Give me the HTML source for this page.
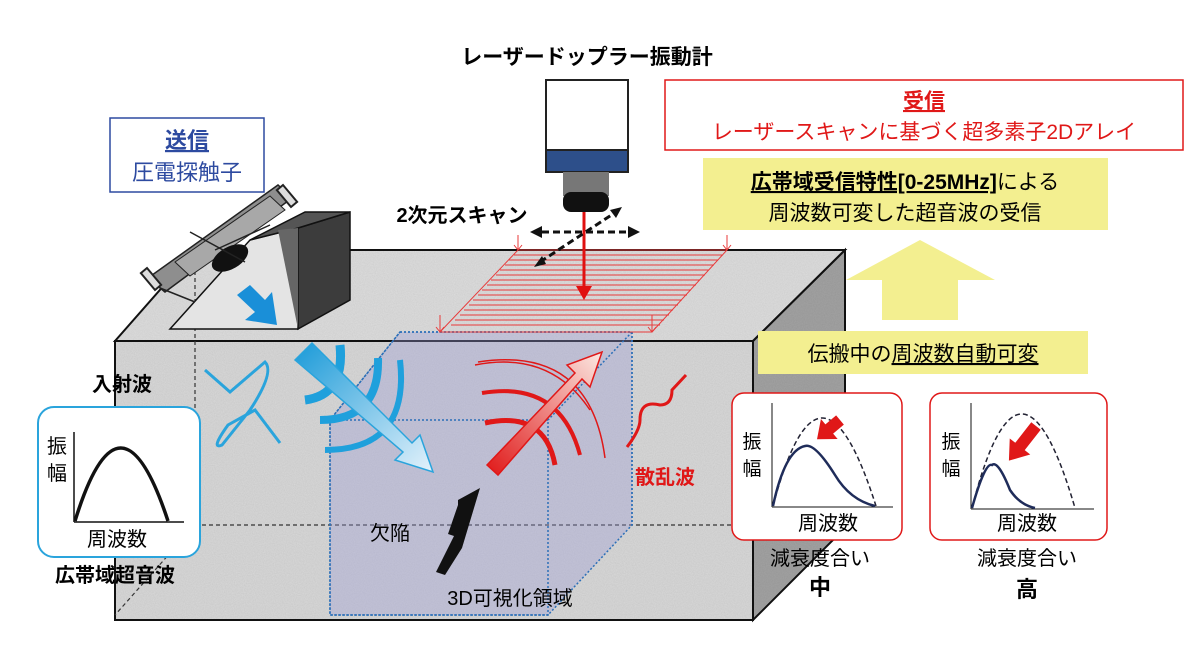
<!DOCTYPE html>
<html><head><meta charset="utf-8"><style>
body{margin:0;background:#fff}
svg{display:block}
text{font-family:"Liberation Sans","Noto Sans CJK JP",sans-serif}
</style></head><body>
<svg width="1200" height="665" viewBox="0 0 1200 665" xmlns="http://www.w3.org/2000/svg">
<defs>
<filter id="n" x="0" y="0" width="100%" height="100%">
<feTurbulence type="fractalNoise" baseFrequency="0.9" numOctaves="2" seed="3"/>
<feColorMatrix type="matrix" values="0 0 0 0 0.5  0 0 0 0 0.5  0 0 0 0 0.5  0 0 0 0.35 0"/>
<feComposite in2="SourceGraphic" operator="in"/>
<feBlend in2="SourceGraphic" mode="multiply"/>
</filter>
<linearGradient id="bg" x1="0" y1="0" x2="1" y2="1"><stop offset="0" stop-color="#1a9ad8"/><stop offset="1" stop-color="#e4f2fb"/></linearGradient>
<linearGradient id="rg" x1="0" y1="1" x2="1" y2="0"><stop offset="0" stop-color="#e01818"/><stop offset="1" stop-color="#fbe9e3"/></linearGradient>
</defs>

<!-- block -->
<g filter="url(#n)">
<polygon points="115,341 195,250 845,250 753,341" fill="#dedede"/>
<polygon points="753,341 845,250 845,528 753,620" fill="#a3a3a3"/>
<rect x="115" y="341" width="638" height="279" fill="#d9d9d9"/>
</g>
<g fill="none" stroke="#111" stroke-width="2">
<polygon points="115,341 195,250 845,250 753,341"/>
<polygon points="753,341 845,250 845,528 753,620"/>
<rect x="115" y="341" width="638" height="279"/>
</g>
<g fill="none" stroke="#333" stroke-width="1.2" stroke-dasharray="4,3">
<line x1="195" y1="250" x2="195" y2="525"/>
<line x1="195" y1="525" x2="845" y2="525"/>
<line x1="195" y1="525" x2="115" y2="615"/>
</g>

<!-- purple region -->
<g fill="#9a9ad8" fill-opacity="0.35" stroke="#2b6fb8" stroke-width="1.5" stroke-dasharray="2,2">
<polygon points="400,332 632,332 632,525 548,615 330,615 330,420"/>
</g>
<g fill="none" stroke="#2b6fb8" stroke-width="1.5" stroke-dasharray="2,2">
<rect x="330" y="420" width="218" height="195"/>
<polyline points="400,332 632,332 548,420"/>
<line x1="632" y1="332" x2="632" y2="525"/>
<line x1="330" y1="420" x2="400" y2="332"/>
</g>

<!-- scan grid -->
<g stroke="#e83a3a" stroke-width="1" fill="none">
<polygon points="518,250 727,250 652,332 440,332"/>
<line x1="514" y1="255" x2="723" y2="255"/><line x1="509" y1="260" x2="718" y2="260"/>
<line x1="505" y1="265" x2="714" y2="265"/><line x1="500" y1="270" x2="709" y2="270"/>
<line x1="496" y1="275" x2="705" y2="275"/><line x1="491" y1="280" x2="700" y2="280"/>
<line x1="487" y1="285" x2="696" y2="285"/><line x1="482" y1="290" x2="691" y2="290"/>
<line x1="478" y1="295" x2="687" y2="295"/><line x1="473" y1="300" x2="682" y2="300"/>
<line x1="469" y1="305" x2="678" y2="305"/><line x1="464" y1="310" x2="673" y2="310"/>
<line x1="460" y1="315" x2="669" y2="315"/><line x1="455" y1="320" x2="664" y2="320"/>
<line x1="451" y1="325" x2="660" y2="325"/>
<path d="M518 235V250M514 245l4 5 4-5M727 235V250M723 245l4 5 4-5M440 315V332M436 327l4 5 4-5M652 315V332M648 327l4 5 4-5"/>
</g>

<!-- laser device -->
<rect x="546" y="80" width="82" height="72" fill="#fff" stroke="#222" stroke-width="2"/>
<rect x="546" y="150" width="82" height="22" fill="#2d4f8a" stroke="#222" stroke-width="2"/>
<rect x="563" y="172" width="46" height="24" fill="#777"/>
<rect x="563" y="192" width="46" height="20" rx="8" fill="#111"/>
<line x1="584" y1="212" x2="584" y2="295" stroke="#e01010" stroke-width="3"/>
<polygon points="576,286 584,300 592,286" fill="#e01010"/>
<g stroke="#111" stroke-width="3" stroke-dasharray="7,4" fill="none">
<line x1="542" y1="232" x2="630" y2="232"/>
<line x1="540" y1="262" x2="616" y2="212"/>
</g>
<polygon points="530,232 542,226 542,238" fill="#111"/>
<polygon points="640,232 628,226 628,238" fill="#111"/>
<polygon points="534,267 542,256 546,264" fill="#111"/>
<polygon points="622,207 610,210 616,218" fill="#111"/>
<text x="587" y="64" font-size="21" font-weight="bold" text-anchor="middle">レーザードップラー振動計</text>
<text x="462" y="222" font-size="20" font-weight="bold" text-anchor="middle">2次元スキャン</text>

<!-- transducer: wedge + block -->
<polygon points="170,329 298,329 298,228 250,240" fill="#e4e4e4" stroke="#111" stroke-width="1.5"/>
<polygon points="298,228 350,212 350,300 298,329" fill="#3c3c3c" stroke="#111" stroke-width="1.5"/>
<polygon points="250,240 298,228 350,212 305,212" fill="#555" stroke="#111" stroke-width="1.5"/>
<polygon points="278,230 298,228 298,329" fill="#666"/>
<!-- probe -->
<polygon points="148,278 278,185 292,198 165,292" fill="#8e8e8e" stroke="#222" stroke-width="1.5"/>
<polygon points="175,262 270,196 285,210 190,276" fill="#a8a8a8" stroke="#222" stroke-width="1"/>
<ellipse cx="230" cy="258" rx="20" ry="11" fill="#111" transform="rotate(-30 230 258)"/>
<g stroke="#222" stroke-width="2" fill="#ddd">
<rect x="147" y="268" width="8" height="22" transform="rotate(-40 151 279)"/>
<rect x="283" y="185" width="8" height="22" transform="rotate(-40 287 196)"/>
</g>
<g stroke="#222" stroke-width="1.5" fill="none">
<line x1="160" y1="288" x2="195" y2="302"/>
<line x1="190" y1="232" x2="245" y2="262"/>
<line x1="215" y1="250" x2="270" y2="225"/>
</g>
<polygon points="237,295 250,285 265,300 272,292 277,325 245,320 255,312" fill="#1a8fd8"/>

<!-- blue waves -->
<path d="M205 370 L230 392 L265 362 Q275 372 250 410 L222 445 Q210 450 228 425 L255 410 L280 443" fill="none" stroke="#2aa4dc" stroke-width="3"/>
<path d="M340 345 Q345 395 305 400" fill="none" stroke="#1fa0dc" stroke-width="9"/>
<path d="M378 358 Q380 420 320 420" fill="none" stroke="#1fa0dc" stroke-width="8"/>
<path d="M400 360 Q410 450 325 450" fill="none" stroke="#1fa0dc" stroke-width="6"/>
<polygon points="295,360 312,343 412,443 420,435 433,472 395,460 403,452" fill="url(#bg)" stroke="#2aa4dc" stroke-width="1.5"/>

<!-- defect -->
<polygon points="458,500 480,488 468,528 462,548 445,575 436,572 454,536 448,534 458,505" fill="#111"/>
<text x="390" y="540" font-size="20" text-anchor="middle">欠陥</text>
<text x="510" y="605" font-size="20" text-anchor="middle" font-family="Liberation Serif, Noto Serif CJK SC, serif">3D可視化領域</text>

<!-- red waves -->
<path d="M475 365 Q550 350 590 410" fill="none" stroke="#e01818" stroke-width="1.5"/>
<path d="M482 393 Q560 380 580 455" fill="none" stroke="#e01818" stroke-width="4"/>
<path d="M485 423 Q545 410 555 465" fill="none" stroke="#e01818" stroke-width="5"/>
<path d="M478 362 Q590 345 605 458" fill="none" stroke="#e01818" stroke-width="1.5"/>
<polygon points="487,465 575,373 567,365 602,352 590,387 582,379 498,475" fill="url(#rg)" stroke="#e01818" stroke-width="1.5"/>
<path d="M627 447 Q640 430 640 420 Q640 400 660 405 Q672 405 672 390 L686 375" fill="none" stroke="#e01818" stroke-width="3"/>
<text x="635" y="484" font-size="20" font-weight="bold" fill="#e01818">散乱波</text>

<!-- left labels -->
<rect x="110" y="118" width="154" height="74" fill="#fff" stroke="#2d4aa0" stroke-width="1.5"/>
<text x="187" y="148" font-size="22" fill="#2d4aa0" text-anchor="middle" font-weight="bold" text-decoration="underline">送信</text>
<text x="187" y="180" font-size="22" fill="#2d4aa0" text-anchor="middle">圧電探触子</text>
<text x="122" y="391" font-size="20" font-weight="bold" text-anchor="middle">入射波</text>
<rect x="38" y="407" width="162" height="150" rx="16" fill="#fff" stroke="#2aa4dc" stroke-width="2"/>
<line x1="74" y1="432" x2="74" y2="522" stroke="#111" stroke-width="1.5"/>
<line x1="74" y1="522" x2="184" y2="522" stroke="#111" stroke-width="1.5"/>
<path d="M75 521 Q120 375 168 521" fill="none" stroke="#111" stroke-width="3.5"/>
<text x="57" y="453" font-size="20" text-anchor="middle">振</text>
<text x="57" y="480" font-size="20" text-anchor="middle">幅</text>
<text x="117" y="546" font-size="20" text-anchor="middle">周波数</text>
<text x="115" y="582" font-size="20" font-weight="bold" text-anchor="middle">広帯域超音波</text>

<!-- right top -->
<rect x="665" y="80" width="518" height="70" fill="#fff" stroke="#e01818" stroke-width="1.5"/>
<text x="924" y="108" font-size="21" fill="#e01818" text-anchor="middle" font-weight="bold" text-decoration="underline">受信</text>
<text x="924" y="139" font-size="21" fill="#e01818" text-anchor="middle">レーザースキャンに基づく超多素子2Dアレイ</text>
<rect x="703" y="158" width="405" height="72" fill="#f3ef90"/>
<text x="905" y="189" font-size="21" text-anchor="middle"><tspan font-weight="bold" text-decoration="underline">広帯域受信特性[0-25MHz]</tspan>による</text>
<text x="905" y="220" font-size="21" text-anchor="middle">周波数可変した超音波の受信</text>
<polygon points="920,240 995,280 958,280 958,320 882,320 882,280 846,280" fill="#f3ef90"/>
<rect x="758" y="331" width="330" height="43" fill="#f3ef90"/>
<text x="923" y="361" font-size="21" text-anchor="middle">伝搬中の<tspan text-decoration="underline">周波数自動可変</tspan></text>

<!-- graph mid -->
<rect x="732" y="393" width="170" height="147" rx="12" fill="#fff" stroke="#e01818" stroke-width="1.5"/>
<line x1="772" y1="403" x2="772" y2="507" stroke="#111" stroke-width="1"/>
<line x1="772" y1="507" x2="893" y2="507" stroke="#111" stroke-width="1"/>
<path d="M773 506 Q820 330 876 506" fill="none" stroke="#223" stroke-width="1.5" stroke-dasharray="5,3"/>
<path d="M773 506 Q785 450 805 446 Q815 443 835 475 Q850 500 875 506" fill="none" stroke="#1f2c5a" stroke-width="2.5"/>
<polygon points="0,-6 14,-6 14,-13 30,0 14,13 14,6 0,6" fill="#e01818" transform="translate(840,420) rotate(140)"/>
<text x="752" y="448" font-size="19" text-anchor="middle">振</text>
<text x="752" y="475" font-size="19" text-anchor="middle">幅</text>
<text x="828" y="530" font-size="20" text-anchor="middle">周波数</text>
<text x="820" y="565" font-size="20" text-anchor="middle">減衰度合い</text>
<text x="820" y="595" font-size="22" font-weight="bold" text-anchor="middle">中</text>

<!-- graph high -->
<rect x="930" y="393" width="177" height="147" rx="12" fill="#fff" stroke="#e01818" stroke-width="1.5"/>
<line x1="971" y1="403" x2="971" y2="509" stroke="#111" stroke-width="1"/>
<line x1="971" y1="509" x2="1094" y2="509" stroke="#111" stroke-width="1"/>
<path d="M972 508 Q1020 320 1075 508" fill="none" stroke="#223" stroke-width="1.5" stroke-dasharray="5,3"/>
<path d="M972 508 Q985 462 992 465 Q998 460 1010 490 Q1020 505 1035 508" fill="none" stroke="#1f2c5a" stroke-width="2.5"/>
<polygon points="0,-6 26,-6 26,-13 44,0 26,13 26,6 0,6" fill="#e01818" transform="translate(1036,426) rotate(128)"/>
<text x="951" y="448" font-size="19" text-anchor="middle">振</text>
<text x="951" y="475" font-size="19" text-anchor="middle">幅</text>
<text x="1027" y="530" font-size="20" text-anchor="middle">周波数</text>
<text x="1027" y="565" font-size="20" text-anchor="middle">減衰度合い</text>
<text x="1027" y="597" font-size="22" font-weight="bold" text-anchor="middle">高</text>
</svg>
</body></html>
